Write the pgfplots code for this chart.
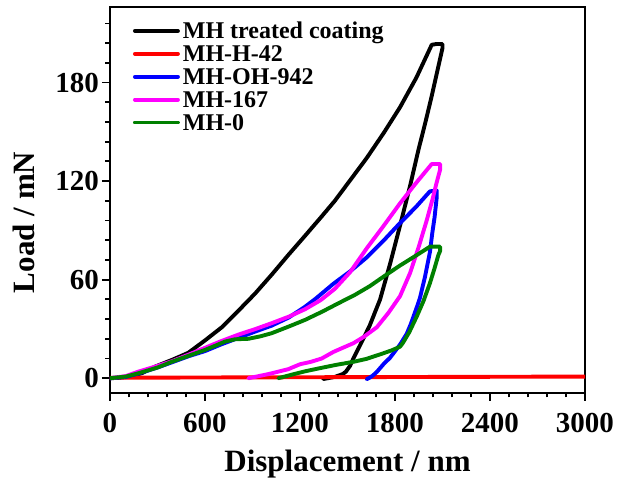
\documentclass[border=0pt]{standalone}
\usepackage{fontspec}
\setmainfont{Liberation Serif}
\usepackage{pgfplots}
\pgfplotsset{compat=1.18}
\definecolor{mhgreen}{RGB}{0,128,0}
\definecolor{mhmag}{RGB}{255,0,255}
\newcommand\lgs{\rule[-10pt]{0pt}{31.4pt}}
\begin{document}
\begin{tikzpicture}
\begin{axis}[
  name=ax,
  scale only axis,
  width=475pt, height=386pt,
  xmin=0, xmax=3000, ymin=-9, ymax=226,
  xtick={0,600,...,3000},
  ytick={0,60,120,180},
  minor xtick={120,240,...,2880},
  minor ytick={12,24,...,216},
  xtick pos=left, ytick pos=left,
  tick align=outside,
  major tick length=8pt,
  minor tick length=4.5pt,
  every tick/.style={black, line width=1.8pt},
  axis line style={line width=1.8pt},
  /pgf/number format/assume math mode=true,
  /pgf/number format/1000 sep={},
  ticklabel style={font=\fontsize{29}{29}\selectfont\bfseries},
  xticklabel style={inner ysep=12pt},
  yticklabel style={inner xsep=3pt},
  xlabel={Displacement / nm},
  ylabel={Load / mN},
  label style={font=\fontsize{31}{31}\selectfont\bfseries},
  xlabel style={at={(axis description cs:0.5,0)}, anchor=base, yshift=-78.7pt},
  ylabel style={at={(axis description cs:0,0.442)}, anchor=base, yshift=75pt},
  legend cell align=left,
  legend image code/.code={\draw[#1] (0pt,-2pt) -- (43pt,-2pt);},
  legend style={draw=none, fill=none, at={(axis description cs:0,1)}, anchor=north west,
    xshift=23pt, yshift=-10.5pt, inner sep=0pt, outer sep=0pt, row sep=0pt, column sep=1pt,
    font=\fontsize{24}{24}\selectfont\bfseries,
    nodes={inner ysep=0pt, inner xsep=2pt}},
  every axis plot/.append style={line width=3.9pt, line join=round, line cap=round},
]
\addplot[black] coordinates {
(0,0)(50,0.2)(100,0.7)(200,3)(284,7)(400,11.5)(495,15.5)(600,23)(706,31)(810,41)(916,51.5)(1021,63)(1126,75)(1230,86.5)(1337,98.5)(1420,108)(1505,119)(1621,134)(1730,149.5)(1832,165)(1935,183)(2032,203)
(2065,203.5)(2100,203.5)
(2100,201)(2065,186)(2030,171)(1990,155)(1948,139)(1895,117)(1832,93)(1770,70)(1706,48)(1640,32)(1579,20)(1537,12)(1516,7.5)(1490,4)(1470,2.5)(1420,0.8)(1347,-0.5)
};
\addlegendentry{\lgs MH treated coating}
\addplot[red] coordinates {(0,0.3)(3000,1.0)};
\addlegendentry{\lgs MH-H-42}
\addplot[blue] coordinates {
(0,0)(100,0.8)(179,2.8)(300,6.5)(400,10)(500,13.5)(600,16.5)(700,20.5)(810,24.5)(920,28.5)(1021,32)(1130,37)(1232,43.5)(1300,48.5)(1411,57.5)(1516,65)(1621,73.5)(1730,84)(1832,94.5)(1930,104)(2021,113.8)
(2064,114.2)
(2064,110.5)(2050,98)(2035,88)(2021,77)(1990,62)(1958,49)(1937,43)(1900,33)(1874,27)(1832,20.5)(1769,12.5)(1727,8.5)(1685,3.8)(1660,1.6)(1643,0.5)(1621,-0.6)
};
\addlegendentry{\lgs MH-OH-942}
\addplot[mhmag] coordinates {
(0,0)(100,1.3)(179,4)(300,7.5)(390,10.3)(500,14.5)(600,18.5)(700,22.5)(810,26.5)(920,30)(1021,33.5)(1130,37.5)(1232,42)(1330,47.5)(1421,54.5)(1516,64.5)(1621,79)(1730,93)(1832,106.5)(1930,118.5)(2032,130.4)
(2085,130.4)
(2085,127)(2060,118)(2040,110)(2000,96)(1950,80)(1895,64)(1832,50)(1760,40)(1685,31)(1600,25)(1537,21.3)(1470,18.5)(1411,16)(1337,12)(1270,10)(1200,8.5)(1126,5.5)(1000,2.5)(900,0.5)(874,0)
};
\addlegendentry{\lgs MH-167}
\addplot[mhgreen] coordinates {
(0,0)(100,1)(179,3)(300,6.5)(390,10)(500,13.8)(600,17.2)(670,20)(726,22.3)(790,23.7)(874,24)(950,25.5)(1021,27.4)(1130,31.5)(1232,35.5)(1340,40.5)(1442,45.6)(1548,50.8)(1640,56)(1727,61.8)(1830,68.5)(1930,74.5)(2021,80.1)
(2085,80.1)
(2085,77.5)(2074,75)(2050,67)(2021,58)(1980,47)(1937,37.5)(1890,28)(1850,21.5)(1832,19.2)(1780,17)(1727,15.2)(1621,11.8)(1548,10.2)(1480,9)(1432,8.2)(1320,6)(1232,4.2)(1150,2.2)(1063,0)
};
\addlegendentry{\lgs MH-0}
\end{axis}
\path (ax.south west) ++(-110pt,-93pt);
\path (ax.north east) ++(34pt,7pt);
\end{tikzpicture}
\end{document}
